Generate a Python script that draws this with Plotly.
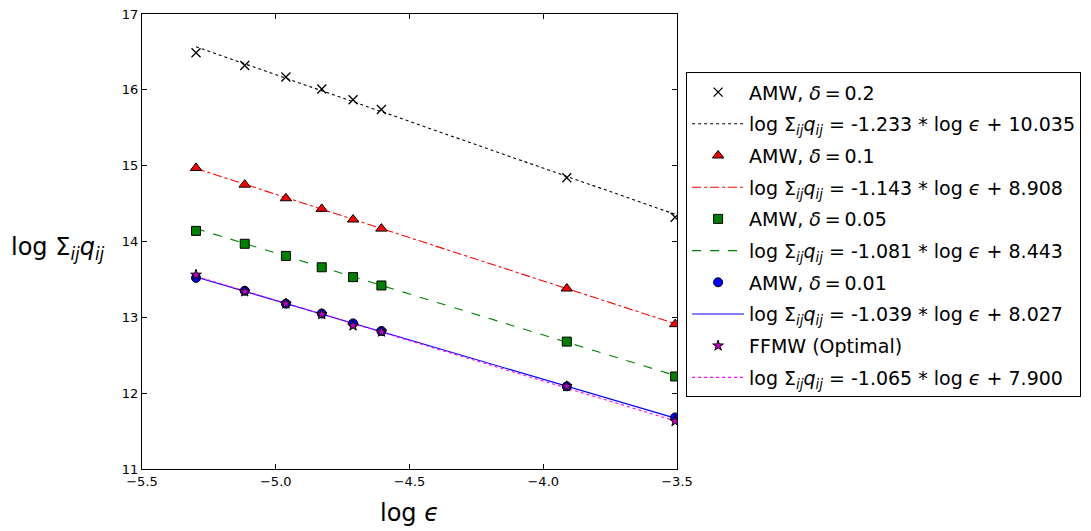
import numpy as np
import plotly.graph_objects as go

log_eps = [-5.298, -5.116, -4.962, -4.828, -4.711, -4.605, -3.912, -3.507]

amw_02 = [16.49, 16.32, 16.17, 16.01, 15.87, 15.74, 14.84, 14.32]
amw_01 = [14.97, 14.75, 14.57, 14.43, 14.29, 14.17, 13.38, 12.91]
amw_005 = [14.14, 13.97, 13.81, 13.66, 13.53, 13.42, 12.68, 12.22]
amw_001 = [13.52, 13.35, 13.18, 13.05, 12.92, 12.82, 12.09, 11.68]
ffmw = [13.56, 13.34, 13.18, 13.04, 12.89, 12.81, 12.09, 11.63]

fits = {
    "0.2": (-1.233, 10.035),
    "0.1": (-1.143, 8.908),
    "0.05": (-1.081, 8.443),
    "0.01": (-1.039, 8.027),
    "ffmw": (-1.065, 7.900),
}

LHS = "log Σ<sub><i>ij</i></sub><i>q</i><sub><i>ij</i></sub>"
EQ = "\u2009=\u2009"


def fit_label(slope, icpt):
    return f"{LHS} = {slope:.3f} * log <i>ϵ</i> + {icpt:.3f}"


def fit_line(key):
    s, b = fits[key]
    xs = np.array([log_eps[0], log_eps[-1]])
    return xs, s * xs + b


fig = go.Figure()

series = [
    (f"AMW, <i>δ</i>{EQ}0.2", amw_02, "0.2",
     dict(symbol="x-thin-open", size=9, color="black", line=dict(color="black", width=1.3)),
     dict(color="black", dash="dot", width=1.1)),
    (f"AMW, <i>δ</i>{EQ}0.1", amw_01, "0.1",
     dict(symbol="triangle-up", size=10, color="red", line=dict(color="black", width=1)),
     dict(color="red", dash="dashdot", width=1.1)),
    (f"AMW, <i>δ</i>{EQ}0.05", amw_005, "0.05",
     dict(symbol="square", size=9, color="green", line=dict(color="black", width=1)),
     dict(color="green", dash="dash", width=1.1)),
    (f"AMW, <i>δ</i>{EQ}0.01", amw_001, "0.01",
     dict(symbol="circle", size=9, color="blue", line=dict(color="black", width=1)),
     dict(color="blue", dash="solid", width=1.1)),
    ("FFMW (Optimal)", ffmw, "ffmw",
     dict(symbol="star", size=8, color="#bf00bf", line=dict(color="black", width=1)),
     dict(color="magenta", dash="dot", width=1.1)),
]

line_traces, marker_traces = [], []
for i, (name, ys, key, mk, ln) in enumerate(series):
    s, b = fits[key]
    marker_traces.append(go.Scatter(x=log_eps, y=ys, mode="markers", name=name, marker=mk,
                                    legendgroup=f"g{2*i:02d}", legendrank=2 * i + 1))
    xs, yl = fit_line(key)
    line_traces.append(go.Scatter(x=xs, y=yl, mode="lines", name=fit_label(s, b), line=ln,
                                  legendgroup=f"g{2*i+1:02d}", legendrank=2 * i + 2))

for t in line_traces + marker_traces:
    fig.add_trace(t)

fig.update_layout(
    width=1091, height=531,
    margin=dict(l=142, r=414, t=7, b=62),
    plot_bgcolor="white", paper_bgcolor="white",
    font=dict(family="DejaVu Sans", size=13, color="black"),
    legend=dict(
        x=1.017, y=0.872, xanchor="left", yanchor="top",
        bordercolor="black", borderwidth=1, bgcolor="white",
        font=dict(size=19, family="DejaVu Sans"),
        traceorder="grouped", tracegroupgap=4,
        itemwidth=52,
    ),
    showlegend=True,
)

fig.update_xaxes(range=[-5.5, -3.5], tickvals=[-5.5, -5.0, -4.5, -4.0, -3.5],
                 ticktext=["−5.5", "−5.0", "−4.5", "−4.0", "−3.5"],
                 showline=True, linecolor="black", linewidth=1, mirror="ticks",
                 ticks="inside", ticklen=5, tickcolor="black", showgrid=False, zeroline=False,
                 ticklabeloverflow="allow",
                 title=dict(text="log <i>ϵ</i>", font=dict(size=24), standoff=16))
fig.update_yaxes(range=[11, 17], tickvals=[11, 12, 13, 14, 15, 16, 17],
                 showline=True, linecolor="black", linewidth=1, mirror="ticks",
                 ticks="inside", ticklen=5, tickcolor="black", showgrid=False, zeroline=False,
                 ticklabeloverflow="allow")

fig.add_annotation(text="log Σ<sub><i>ij</i></sub><i>q</i><sub><i>ij</i></sub>",
                   xref="paper", yref="paper", x=-0.157, y=0.485, xanchor="center", yanchor="middle",
                   showarrow=False, font=dict(size=24))

fig.write_html("out.html", config={"displayModeBar": False},
               post_script="document.body.style.margin='0';document.body.style.padding='0';")
